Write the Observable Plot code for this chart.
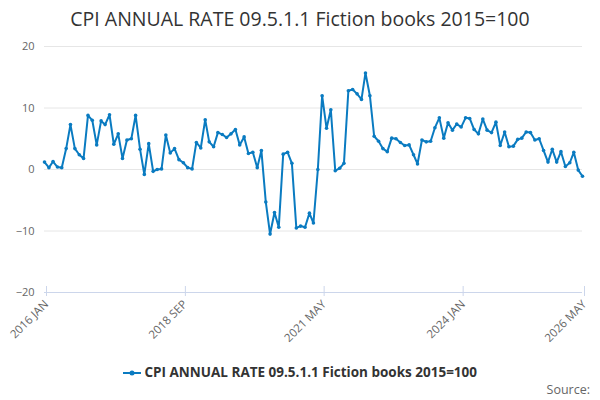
<!DOCTYPE html>
<html><head><meta charset="utf-8">
<script src="https://cdn.jsdelivr.net/npm/d3@7"></script>
<script src="https://cdn.jsdelivr.net/npm/@observablehq/plot@0.6"></script>
<style>
body{margin:0;width:600px;height:400px;font-family:"Open Sans","DejaVu Sans",sans-serif;background:#fff;position:relative;overflow:hidden}
#title{height:36px;line-height:38px;text-align:center;font-size:19.5px;color:#333}
#legend{position:absolute;top:363px;left:0;width:600px;text-align:center;font-size:13.5px;font-weight:bold;color:#333}
#source{position:absolute;top:381px;right:10px;font-size:12.5px;color:#666}
</style></head><body>
<div id="title">CPI ANNUAL RATE 09.5.1.1 Fiction books 2015=100</div>
<div id="chart"></div>
<div id="legend"><svg width="18" height="10" style="vertical-align:middle"><line x1="0" y1="5" x2="18" y2="5" stroke="#0a7bc1" stroke-width="2"/><circle cx="9" cy="5" r="2.5" fill="#0a7bc1"/></svg> CPI ANNUAL RATE 09.5.1.1 Fiction books 2015=100</div>
<div id="source">Source:</div>
<script>
const startYear = 2016, startMonth = 0;
const values = [
1.2,0.3,1.3,0.4,0.3,3.4,7.3,3.4,2.4,1.8,
8.8,8.0,4.0,7.9,7.3,8.9,4.1,5.8,1.8,4.8,
5.0,8.8,3.3,-0.8,4.2,-0.3,0,0.1,5.6,2.7,
3.4,1.6,1.1,0.3,0.1,4.4,3.5,8.1,4.5,3.7,
6.0,5.7,5.2,5.8,6.5,4.0,5.3,2.6,2.8,0.3,
3.1,-5.3,-10.5,-7.0,-9.4,2.5,2.8,1.0,-9.5,-9.2,
-9.4,-7.1,-8.7,0,12.0,6.7,9.7,-0.2,0.2,1.0,
12.8,13.0,12.3,11.4,15.7,12.0,5.4,4.6,3.4,2.9,
5.1,5.0,4.4,3.9,4.0,2.4,0.9,4.8,4.5,4.6,
6.8,8.4,5.1,7.6,6.4,7.4,6.9,8.4,8.3,6.5,
5.8,8.2,6.4,6.0,7.7,3.9,6.1,3.7,3.8,4.9,
5.1,6.1,6.0,4.8,5.0,3.1,1.2,3.3,1.2,2.9,
0.5,1.1,2.8,-0.1,-1.1];
const tickLabels = ["2016 JAN","2018 SEP","2021 MAY","2024 JAN","2026 MAY"];
const yTicks = [-20,-10,0,10,20];
const months = ["JAN","FEB","MAR","APR","MAY","JUN","JUL","AUG","SEP","OCT","NOV","DEC"];
const data = values.map((v,i)=>({date:new Date(Date.UTC(startYear, startMonth+i, 1)), value:v}));
const tickDates = tickLabels.map(s=>{const [y,m]=s.split(" ");return new Date(Date.UTC(+y, months.indexOf(m), 1));});
const col = "#0a7bc1";
const chart = Plot.plot({
  width:600, height:316,
  marginTop:10, marginLeft:44, marginRight:18, marginBottom:60,
  style:{fontFamily:"Open Sans, DejaVu Sans, sans-serif", fontSize:"11px", color:"#666"},
  x:{type:"utc", domain:[data[0].date, data[data.length-1].date]},
  y:{domain:[-20,20]},
  marks:[
    Plot.gridY(yTicks,{stroke:"#e6e6e6", strokeOpacity:1}),
    Plot.axisY(yTicks,{tickSize:0, tickPadding:10, label:null, fill:"#666", fontSize:11}),
    Plot.ruleY([-20],{stroke:"#ccd6eb"}),
    Plot.axisX(tickDates,{tickSize:10, stroke:"#ccd6eb", tickFormat:(d)=>tickLabels[tickDates.findIndex(t=>+t===+d)], tickRotate:-45, label:null, fill:"#666", fontSize:11.5, textAnchor:"end", dy:-6, dx:2}),
    Plot.line(data,{x:"date", y:"value", stroke:col, strokeWidth:2}),
    Plot.dot(data,{x:"date", y:"value", fill:col, r:1.8})
  ]
});
document.getElementById("chart").appendChild(chart);
</script>
</body></html>
